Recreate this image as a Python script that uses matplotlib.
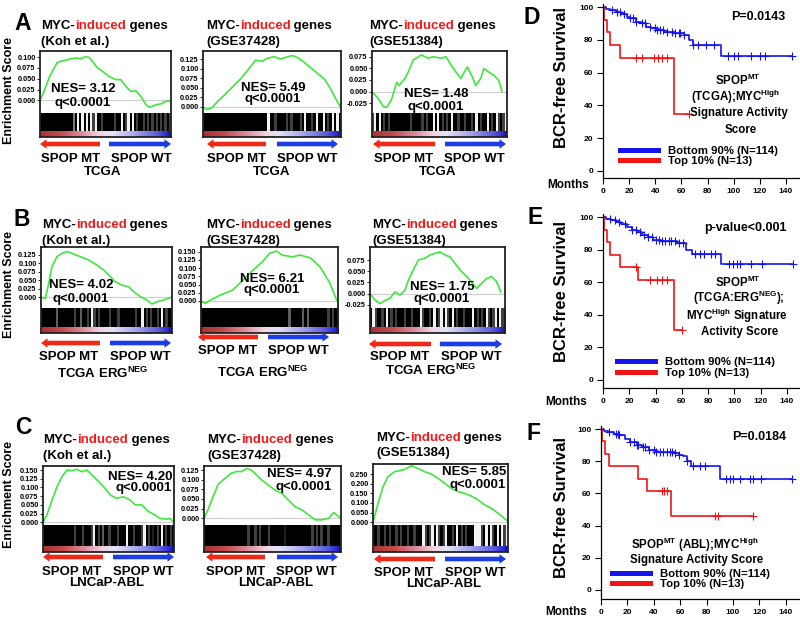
import numpy as np
import matplotlib
matplotlib.use("Agg")
import matplotlib.pyplot as plt
from matplotlib.transforms import Affine2D
from matplotlib.patches import FancyArrow
from matplotlib.lines import Line2D
from matplotlib.colors import LinearSegmentedColormap

plt.rcParams.update({
    "font.family": ["Liberation Sans", "DejaVu Sans"],
    "font.weight": "bold",
    "mathtext.fontset": "custom",
    "mathtext.rm": "Liberation Sans:bold",
    "mathtext.bf": "Liberation Sans:bold",
    "mathtext.it": "Liberation Sans:bold:italic",
    "mathtext.sf": "Liberation Sans:bold",
})

# ===================== DATA =====================
# --- GSEA running enrichment score curves (rank fraction, ES) ---
koh_tcga_pos = [0.0, 0.031, 0.069, 0.094, 0.133, 0.184, 0.235, 0.273, 0.311, 0.349, 0.375, 0.401,
                0.439, 0.477, 0.528, 0.579, 0.617, 0.656, 0.694, 0.732, 0.770, 0.809, 0.834, 0.885,
                0.923, 0.962, 0.995]
koh_tcga_es = [0.0, 0.021, 0.052, 0.067, 0.088, 0.092, 0.096, 0.098, 0.096, 0.101, 0.099, 0.090,
               0.075, 0.067, 0.055, 0.048, 0.048, 0.032, 0.021, 0.022, 0.009, -0.010, -0.016, -0.010,
               -0.008, -0.002, -0.001]

gse37428_tcga_pos = [0.0, 0.029, 0.066, 0.102, 0.150, 0.211, 0.272, 0.333, 0.381, 0.430, 0.466, 0.515,
                     0.563, 0.612, 0.648, 0.684, 0.721, 0.757, 0.818, 0.879, 0.927, 0.964, 0.995]
gse37428_tcga_es = [0.0, -0.007, -0.002, 0.013, 0.029, 0.051, 0.073, 0.100, 0.122, 0.119, 0.127, 0.131,
                    0.125, 0.131, 0.134, 0.129, 0.120, 0.109, 0.091, 0.073, 0.046, 0.020, 0.000]

gse51384_tcga_pos = [0.0, 0.049, 0.085, 0.110, 0.146, 0.183, 0.200, 0.244, 0.268, 0.305, 0.366, 0.415,
                     0.451, 0.512, 0.549, 0.585, 0.622, 0.659, 0.683, 0.707, 0.744, 0.768, 0.805, 0.829,
                     0.866, 0.902, 0.939, 0.963]
gse51384_tcga_es = [0.0, -0.016, -0.033, -0.034, -0.016, 0.020, 0.013, 0.028, 0.042, 0.068, 0.079, 0.072,
                    0.075, 0.072, 0.075, 0.057, 0.042, 0.028, 0.042, 0.053, 0.031, 0.013, 0.028, 0.050,
                    0.042, 0.035, 0.024, 0.000]

koh_erg_pos = [0.0, 0.033, 0.059, 0.084, 0.122, 0.160, 0.198, 0.237, 0.300, 0.364, 0.427, 0.478,
               0.529, 0.567, 0.618, 0.669, 0.707, 0.758, 0.809, 0.847, 0.885, 0.936, 0.992]
koh_erg_es = [0.0, -0.003, 0.041, 0.091, 0.120, 0.130, 0.135, 0.130, 0.120, 0.110, 0.095, 0.081,
              0.061, 0.046, 0.036, 0.031, 0.017, 0.002, -0.008, -0.020, -0.013, -0.008, 0.000]

gse37428_erg_pos = [0.0, 0.03, 0.08, 0.14, 0.23, 0.31, 0.38, 0.45, 0.50, 0.55, 0.59, 0.67, 0.72,
                    0.80, 0.87, 0.94, 0.99]
gse37428_erg_es = [0.0, -0.007, 0.005, 0.018, 0.033, 0.065, 0.094, 0.120, 0.145, 0.152, 0.140, 0.134,
                   0.140, 0.131, 0.103, 0.055, 0.003]

gse51384_erg_pos = [0.0, 0.037, 0.074, 0.111, 0.148, 0.185, 0.222, 0.259, 0.284, 0.321, 0.358, 0.407,
                    0.444, 0.481, 0.519, 0.556, 0.593, 0.630, 0.667, 0.704, 0.741, 0.790, 0.827, 0.864,
                    0.901, 0.938, 0.968]
gse51384_erg_es = [0.0, -0.014, -0.022, -0.015, -0.010, 0.004, -0.003, 0.008, 0.030, 0.053, 0.075, 0.079,
                   0.086, 0.090, 0.093, 0.086, 0.082, 0.067, 0.053, 0.042, 0.030, 0.012, 0.023, 0.034,
                   0.038, 0.027, 0.004]

koh_abl_pos = [0.0, 0.030, 0.069, 0.107, 0.145, 0.183, 0.221, 0.259, 0.297, 0.335, 0.373, 0.424,
               0.475, 0.513, 0.563, 0.614, 0.665, 0.703, 0.754, 0.805, 0.855, 0.893, 0.944, 0.970, 0.995]
koh_abl_es = [0.0, 0.021, 0.064, 0.102, 0.131, 0.150, 0.148, 0.152, 0.145, 0.150, 0.136, 0.117,
              0.097, 0.078, 0.069, 0.073, 0.064, 0.050, 0.050, 0.031, 0.021, 0.011, 0.009, 0.011, 0.002]

gse37428_abl_pos = [0.0, 0.029, 0.066, 0.103, 0.152, 0.200, 0.237, 0.274, 0.311, 0.347, 0.384, 0.421,
                    0.469, 0.518, 0.567, 0.616, 0.665, 0.714, 0.763, 0.812, 0.861, 0.910, 0.946, 0.983, 1.0]
gse37428_abl_es = [0.0, 0.022, 0.056, 0.088, 0.103, 0.117, 0.121, 0.121, 0.129, 0.125, 0.112, 0.099,
                   0.086, 0.073, 0.065, 0.047, 0.030, 0.022, 0.009, -0.004, -0.004, 0.000, 0.015, 0.004, 0.0]

gse51384_abl_pos = [0.0, 0.037, 0.074, 0.111, 0.160, 0.235, 0.284, 0.333, 0.383, 0.432, 0.481, 0.531,
                    0.580, 0.630, 0.679, 0.728, 0.778, 0.827, 0.877, 0.926, 0.963, 0.995]
gse51384_abl_es = [0.0, 0.098, 0.184, 0.236, 0.262, 0.274, 0.293, 0.279, 0.262, 0.250, 0.228, 0.202,
                   0.176, 0.159, 0.150, 0.136, 0.116, 0.090, 0.072, 0.047, 0.026, 0.007]

# --- hit density along the ranked list (0 = no hit, 9 = dense hits), 60 bins ---
koh_tcga_hits = "9999999999" "9999959090" "9090709979" "9999799097" "0909799797" "9797979797"
gse37428_tcga_hits = "9999999999" "9999999999" "9999999909" "9799997979" "9979099790" "9909790909"
gse51384_tcga_hits = "7090979799" "9999999799" "9979799090" "9797909979" "9799790979" "9097907970"
koh_erg_hits = "9999999699" "9999979969" "9790797999" "9799979999" "9997990979" "7997909799"
gse37428_erg_hits = "9999999999" "9999999999" "9999999999" "9999999969" "9999696999" "9999979797"
gse51384_erg_hits = "9079979097" "9799979979" "9907997909" "7090790979" "9799909797" "9079709079"
koh_abl_hits = "9999999999" "9999799979" "9970979699" "7999799909" "9799970979" "8979097979"
gse37428_abl_hits = "9999999999" "9999999997" "9979799979" "9999989999" "9999999797" "9799799999"
gse51384_abl_hits = "9979979799" "7979979979" "9907970907" "9709979097" "9799900079" "0907909070"

nes_values = ["3.12", "5.49", "1.48", "4.02", "6.21", "1.75", "4.20", "4.97", "5.85"]
gene_set_sources = ["(Koh et al.)", "(GSE37428)", "(GSE51384)"]
row_datasets = ["TCGA", "TCGA ERG$^{\\rm NEG}$", "LNCaP-ABL"]

# --- Kaplan-Meier data (months, % BCR-free) ---
km_groups = ["Bottom 90% (N=114)", "Top 10% (N=13)"]

D_low_t = [0, 2, 5, 10, 14, 18, 21, 25, 29, 33, 37, 41, 47, 55, 62, 66, 69, 90]
D_low_s = [100, 99, 98, 97, 96, 94, 93, 91, 90, 88, 87, 86, 85, 84, 83, 80, 77, 70]
D_low_end = 145
D_low_cens = [7, 11, 13, 16, 21, 23, 25, 30, 32, 36, 40, 41, 44, 46, 49, 53, 55, 58, 59, 62, 69,
              73, 79, 85, 96, 100, 103, 113, 120, 124, 145]
D_high_t = [0, 1, 3, 5, 13, 54]
D_high_s = [100, 92.3, 84.6, 76.9, 69.2, 34.6]
D_high_end = 66
D_high_cens = [25, 30, 39, 42, 45, 49, 66]

E_low_t = [0, 2, 6, 10, 14, 18, 22, 26, 30, 34, 38, 44, 56, 63, 68, 90]
E_low_s = [100, 99, 98, 97, 96, 94, 92, 91, 89, 88, 86, 85, 84, 80, 77, 71]
E_low_end = 145
E_low_cens = [5, 9, 12, 17, 22, 25, 28, 31, 34, 37, 40, 43, 45, 47, 50, 52, 55, 58, 61, 70, 74,
              77, 82, 85, 96, 99, 102, 104, 113, 121, 145]
E_high_t = [0, 1, 3, 5, 13, 27, 54]
E_high_s = [100, 92.3, 84.6, 76.9, 69.2, 61.5, 30.8]
E_high_end = 60
E_high_cens = [25, 36, 41, 45, 49, 60]

F_low_t = [0, 2, 5, 10, 14, 18, 22, 27, 31, 36, 42, 56, 59, 62, 65, 68, 90]
F_low_s = [100, 99, 98, 97, 96, 94, 92, 90, 89, 87, 86, 85, 84, 83, 80, 77, 69]
F_low_end = 145
F_low_cens = [6, 11, 13, 14, 22, 25, 27, 28, 32, 33, 36, 40, 42, 45, 47, 50, 52, 54, 56, 59, 65,
              70, 75, 79, 95, 98, 100, 105, 113, 115, 121, 145]
F_high_t = [0, 1, 3, 6, 28, 35, 53]
F_high_s = [100, 92.3, 84.6, 76.9, 69.2, 61.5, 46.1]
F_high_end = 115
F_high_cens = [46, 48, 50, 86, 89, 115]

km_pvalues = ["P=0.0143", "p-value<0.001", "P=0.0184"]

# ===================== STYLE / LAYOUT =====================
W, H = 800, 617
fig = plt.figure(figsize=(W / 100, H / 100), dpi=100)
fig.patch.set_facecolor("white")
PX = Affine2D().scale(1.0 / W, -1.0 / H).translate(0, 1) + fig.transFigure
renderer = fig.canvas.get_renderer()

GREEN = "#3ee83e"
RED = "#f02818"
BLUE = "#1c3ce6"
KM_BLUE = "#1414f0"
KM_RED = "#f01414"

rank_cmap = LinearSegmentedColormap.from_list(
    "rank", [(0.0, "#a83232"), (0.15, "#c24a4a"), (0.32, "#dc8c9c"), (0.45, "#f2d2e2"),
             (0.55, "#e4e4f6"), (0.72, "#a8a8ec"), (0.9, "#5a5ade"), (0.97, "#2a2ad0"), (1.0, "#0a0aa0")])
grad = np.linspace(0, 1, 256)[None, :]


def rect(x0, y0, x1, y1):
    return [x0 / W, 1 - y1 / H, (x1 - x0) / W, (y1 - y0) / H]


def T(x, y, s, **kw):
    kw.setdefault("ha", "center")
    kw.setdefault("va", "center")
    return fig.text(x, y, s, transform=PX, **kw)


def title(x, y1, y2, second, fs=9.5):
    t1 = T(x, y1, "MYC-", ha="left", fontsize=fs)
    x1 = t1.get_window_extent(renderer).x1
    t2 = T(x1, y1, "induced", ha="left", fontsize=fs, color="#ee1c1c")
    x2 = t2.get_window_extent(renderer).x1
    T(x2, y1, " genes", ha="left", fontsize=fs)
    T(x, y2, second, ha="left", fontsize=fs)


def gsea(x0, x1, top, split, bottom, pos, es, ylim, yticks, hits):
    bar_top = bottom - 6
    ax = fig.add_axes(rect(x0, top, x1, split))
    ax.axhline(0, color="#cfcfcf", lw=0.8, zorder=1)
    ax.plot(pos, es, color=GREEN, lw=1.2, zorder=2)
    ax.set_xlim(0, 1)
    ax.set_ylim(*ylim)
    ax.set_xticks([])
    ax.set_yticks(yticks)
    ax.set_yticklabels([f"{v:.3f}" for v in yticks])
    ax.tick_params(axis="y", labelsize=5.3, length=2, width=0.6, pad=1.2)
    for s in ax.spines.values():
        s.set_visible(False)
    axh = fig.add_axes(rect(x0, split, x1, bar_top))
    axh.imshow(np.array([[int(c) for c in hits]]), cmap="Greys", vmin=-1, vmax=9,
               aspect="auto", interpolation="nearest", extent=[0, 1, 0, 1])
    axh.axis("off")
    axb = fig.add_axes(rect(x0, bar_top, x1, bottom))
    axb.imshow(grad, cmap=rank_cmap, aspect="auto", extent=[0, 1, 0, 1])
    axb.axis("off")
    fr = fig.add_axes(rect(x0, top, x1, bottom))
    fr.patch.set_alpha(0)
    fr.set_xticks([])
    fr.set_yticks([])
    for s in fr.spines.values():
        s.set_linewidth(1.3)
        s.set_color("#222222")


def arrows(red_tip, red_tail, blue_tail, blue_tip, y):
    for xt, xh, c in [(red_tail, red_tip, RED), (blue_tail, blue_tip, BLUE)]:
        fig.patches.append(FancyArrow(xt, y, xh - xt, 0, width=4.6, head_width=9.5, head_length=6.5,
                                      length_includes_head=True, color=c, lw=0, transform=PX))


# ---- GSEA panel layout: (x0, x1, top, split, bottom) ----
cols_x = [[(40, 171), (203, 341), (372, 507)],
          [(41, 172), (201, 338), (370, 505)],
          [(43, 174), (204, 341), (373, 508)]]
rows_y = [[(51, 113, 137)] * 3,
          [(247, 308, 333)] * 3,
          [(466, 525, 552), (466, 525, 552), (464, 525, 552)]]
curves = [[(koh_tcga_pos, koh_tcga_es, koh_tcga_hits),
           (gse37428_tcga_pos, gse37428_tcga_es, gse37428_tcga_hits),
           (gse51384_tcga_pos, gse51384_tcga_es, gse51384_tcga_hits)],
          [(koh_erg_pos, koh_erg_es, koh_erg_hits),
           (gse37428_erg_pos, gse37428_erg_es, gse37428_erg_hits),
           (gse51384_erg_pos, gse51384_erg_es, gse51384_erg_hits)],
          [(koh_abl_pos, koh_abl_es, koh_abl_hits),
           (gse37428_abl_pos, gse37428_abl_es, gse37428_abl_hits),
           (gse51384_abl_pos, gse51384_abl_es, gse51384_abl_hits)]]
ylims = [[(-0.029, 0.114), (-0.016, 0.146), (-0.0463, 0.0875)],
         [(-0.0316, 0.1486), (-0.0213, 0.1643), (-0.0317, 0.1039)],
         [(-0.0077, 0.1615), (-0.0173, 0.1354), (-0.014, 0.302)]]
step = 0.025
yt = [[np.arange(0, 0.1001, step), np.arange(0, 0.1251, step), np.arange(-0.025, 0.0751, step)],
      [np.arange(0, 0.1251, step), np.arange(0, 0.1501, step), np.arange(-0.025, 0.0751, step)],
      [np.arange(0, 0.1501, step), np.arange(0, 0.1251, step), np.arange(0, 0.2501, 0.05)]]
# NES text: (x, y_nes, y_q, ha)
nes_pos = [[(83, 89, 103, "center"), (273, 88, 99, "center"), (436, 94, 107, "center")],
           [(81, 285, 299, "center"), (272, 279, 290, "center"), (442, 287, 299, "center")],
           [(172, 477, 488, "right"), (332, 474, 487, "right"), (506, 472, 485, "right")]]
title_pos = [[(41, 26, 42), (206, 26, 42), (369, 26, 42)],
             [(42, 225, 241), (206, 225, 241), (372, 225, 241)],
             [(43, 440, 456), (207, 440, 456), (376, 438, 453)]]
arrow_pos = [[(40, 100, 109, 171, 144), (207, 266, 277, 338, 144), (373, 435, 445, 506, 144)],
             [(41, 100, 110, 171, 343), (198, 258, 268, 329, 337), (369, 431, 440, 502, 344)],
             [(43, 103, 113, 174, 557), (206, 265, 277, 338, 557), (374, 435, 445, 506, 559)]]
# (mt_x, wt_x, y, dataset_x, dataset_y)
label_pos = [[(71, 141, 159, 103, 172), (237, 307, 159, 272, 172), (404, 474, 159, 438, 172)],
             [(69, 140, 357, 103, 373), (228, 298, 351, 263, 372), (400, 471, 357, 431, 370)],
             [(72, 143, 572, 107, 583), (236, 306, 572, 276, 583), (404, 475, 573, 444, 584)]]

for r in range(3):
    for c in range(3):
        x0, x1 = cols_x[r][c]
        top, split, bottom = rows_y[r][c]
        pos, es, hits = curves[r][c]
        gsea(x0, x1, top, split, bottom, pos, es, ylims[r][c], yt[r][c], hits)
        nx, ny1, ny2, ha = nes_pos[r][c]
        T(nx, ny1, "NES= " + nes_values[3 * r + c], ha=ha, fontsize=9.5)
        T(nx, ny2, "q<0.0001", ha=ha, fontsize=9.5)
        tx, ty1, ty2 = title_pos[r][c]
        title(tx, ty1, ty2, gene_set_sources[c])
        arrows(*arrow_pos[r][c])
        mx, wx, ly, dx, dy = label_pos[r][c]
        T(mx, ly, "SPOP MT", fontsize=9.5)
        T(wx, ly, "SPOP WT", fontsize=9.5)
        T(dx, dy, row_datasets[r], fontsize=9.5)

for letter, (x, y) in zip("ABC", [(23, 23), (22, 219), (23, 428)]):
    T(x, y, letter, fontsize=16.5)
for y in [91, 284, 494]:
    T(9, y, "Enrichment Score", rotation=90, fontsize=9)

# ---------------- Kaplan-Meier panels ----------------
km_sets = [
    (D_low_t, D_low_s, D_low_end, D_low_cens, D_high_t, D_high_s, D_high_end, D_high_cens),
    (E_low_t, E_low_s, E_low_end, E_low_cens, E_high_t, E_high_s, E_high_end, E_high_cens),
    (F_low_t, F_low_s, F_low_end, F_low_cens, F_high_t, F_high_s, F_high_end, F_high_cens),
]
# axes: x0 (x=0), x1 (x=150), y_at_100, y_at_0, y_spine
km_geom = [(603, 799, 7, 171, 178), (603, 800, 217, 380, 388), (601, 799, 429, 590, 599)]
km_letter = [(532, 17), (535, 218), (533, 433)]
km_p = [(758, 17), (745, 228), (759, 437)]
km_months = [(568, 185), (566, 402), (566, 612)]
km_ylabel = [(562, 78), (562, 292), (562, 508)]
km_legend = [(620, 156), (617, 367.5), (612, 579)]
km_notes = [
    [(738, 80, "SPOP$^{\\rm MT}$"), (736, 97, "(TCGA);MYC$^{\\rm High}$"),
     (739, 113, "Signature Activity"), (741, 130, "Score")],
    [(738, 282, "SPOP$^{\\rm MT}$"), (739, 298, "(TCGA:ERG$^{\\rm NEG}$);"),
     (737, 316, "MYC$^{\\rm High}$ Signature"), (740, 332, "Activity Score")],
    [(695, 545, "SPOP$^{\\rm MT}$ (ABL);MYC$^{\\rm High}$"), (697, 560, "Signature Activity Score")],
]

for i, (lt, ls, lend, lc, ht, hs, hend, hc) in enumerate(km_sets):
    x0, x1, y100, y0, yspine = km_geom[i]
    ppu = (y0 - y100) / 100.0
    ybot = -(yspine - y0) / ppu
    ytop = 102
    ax = fig.add_axes(rect(x0, y0 - ytop * ppu, x1, yspine))
    for t, s, end, cens, col in [(lt, ls, lend, lc, KM_BLUE), (ht, hs, hend, hc, KM_RED)]:
        ax.step(list(t) + [end], list(s) + [s[-1]], where="post", color=col, lw=1.2)
        cy = [s[np.searchsorted(t, cc, side="right") - 1] for cc in cens]
        ax.plot(cens, cy, "+", color=col, ms=5.5, mew=0.8, ls="none")
    ax.set_xlim(0, 150)
    ax.set_ylim(ybot, ytop)
    ax.set_xticks(range(0, 141, 20))
    ax.set_yticks(range(0, 101, 20))
    ax.tick_params(labelsize=6, length=4, width=0.8, pad=3)
    for lab in ax.get_xticklabels() + ax.get_yticklabels():
        lab.set_fontweight("bold")
    ax.spines["top"].set_visible(False)
    ax.spines["right"].set_visible(False)
    for sp in ("left", "bottom"):
        ax.spines[sp].set_linewidth(0.9)
    handles = [Line2D([], [], color=KM_BLUE, lw=3.6), Line2D([], [], color=KM_RED, lw=3.6)]
    lx, ly = km_legend[i]
    ax.legend(handles, km_groups, loc="center left", bbox_to_anchor=(lx / W, 1 - ly / H),
              bbox_transform=fig.transFigure, frameon=False, borderpad=0, borderaxespad=0,
              handlelength=3.3, handletextpad=0.9, labelspacing=0.05,
              prop={"size": 8.2, "weight": "bold"})
    T(*km_letter[i], "DEF"[i], fontsize=16.5)
    T(*km_p[i], km_pvalues[i], fontsize=9)
    T(*km_months[i], "Months", fontsize=8.5)
    T(*km_ylabel[i], "BCR-free Survival", rotation=90, fontsize=12)
    for (nx, ny, s) in km_notes[i]:
        T(nx, ny, s, fontsize=8.3)

fig.savefig("out.png", dpi=100, facecolor="white")
